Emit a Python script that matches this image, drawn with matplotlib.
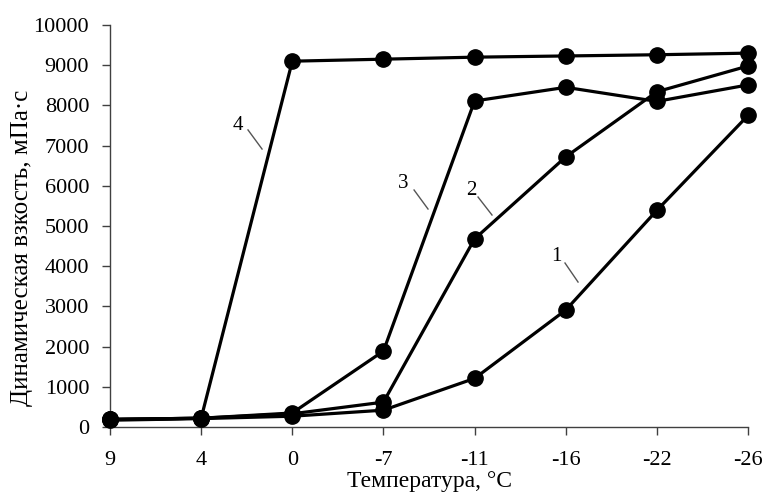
import matplotlib
matplotlib.use("Agg")
import matplotlib.pyplot as plt

categories = ["9", "4", "0", "-7", "-11", "-16", "-22", "-26"]
series1 = [170, 210, 270, 420, 1210, 2910, 5390, 7750]
series2 = [190, 220, 330, 620, 4680, 6720, 8340, 8980]
series3 = [190, 220, 350, 1890, 8110, 8450, 8100, 8510]
series4 = [190, 220, 9100, 9150, 9200, 9230, 9260, 9300]
series_labels = ["1", "2", "3", "4"]

plt.rcParams['font.family'] = ['Liberation Serif', 'DejaVu Serif']

fig = plt.figure(figsize=(7.65, 4.96), dpi=100)
ax = fig.add_axes([0.1438, 0.139, 0.834, 0.8106])

x = list(range(len(categories)))
for s in [series1, series2, series3, series4]:
    ax.plot(x, s, color='black', lw=2.3, marker='o', markersize=11, clip_on=False, zorder=3)

ax.set_xlim(0, len(categories) - 1)
ax.set_ylim(0, 10000)
ax.set_yticks(range(0, 10001, 1000))
ax.set_xticks(x)
ax.set_xticklabels(categories)
ax.spines['top'].set_visible(False)
ax.spines['right'].set_visible(False)
for sp in ['left', 'bottom']:
    ax.spines[sp].set_linewidth(1.0)
    ax.spines[sp].set_color('#404040')
ax.tick_params(axis='both', direction='out', length=6, width=1, color='#404040',
               labelsize=16)
ax.tick_params(axis='y', pad=9)
ax.tick_params(axis='x', pad=11)

ax.set_xlabel("Температура, °C", fontsize=17)
ax.xaxis.set_label_coords(0.5, -0.11)
ax.set_ylabel("Динамическая взкость, мПа·с", fontsize=18)
ax.yaxis.set_label_coords(-0.12, 0.445)

# curve labels with leader lines (data coords)
label_pos = {
    "4": (1.40, 7510, 1.514, 7390, 1.668, 6915),
    "3": (3.215, 6070, 3.336, 5896, 3.489, 5423),
    "2": (3.961, 5896, 4.038, 5721, 4.191, 5274),
    "1": (4.894, 4254, 4.992, 4080, 5.135, 3607),
}
for lab in series_labels:
    tx, ty, x0, y0, x1, y1 = label_pos[lab]
    ax.text(tx, ty, lab, fontsize=15, ha='center', va='center')
    ax.plot([x0, x1], [y0, y1], color='#555555', lw=1.0)

fig.savefig("out.png", dpi=100)
